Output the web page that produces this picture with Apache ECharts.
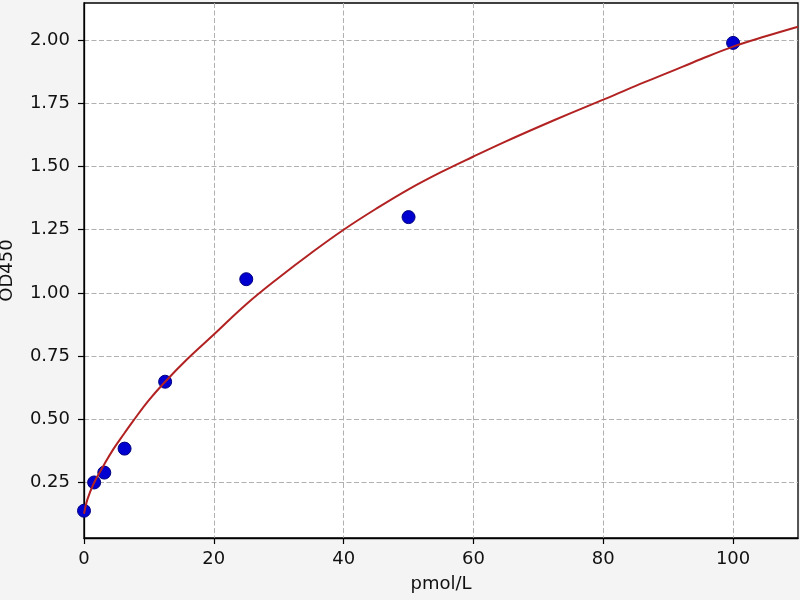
<!DOCTYPE html>
<html>
<head>
<meta charset="utf-8">
<script src="https://cdn.jsdelivr.net/npm/echarts@6/dist/echarts.min.js"></script>
<style>
html,body{margin:0;padding:0;background:#f4f4f4;}
#chart{width:800px;height:600px;}
</style>
</head>
<body>
<div id="chart"></div>
<script>
// Measured standards (pmol/L vs OD450)
const stdConc = [0, 1.5625, 3.125, 6.25, 12.5, 25, 50, 100];
const stdOD   = [0.137, 0.249, 0.288, 0.383, 0.648, 1.054, 1.30, 1.99];

// Fitted curve
const curveX = [0, 0.5, 1.5, 3, 4.5, 6.25, 7.5, 10, 12.5, 16, 20, 25, 30, 35, 40, 45, 50, 55, 60, 65, 70, 75, 80, 85, 90, 95, 100, 105, 110];
const curveY = [0.125, 0.18, 0.245, 0.315, 0.38, 0.445, 0.49, 0.575, 0.648, 0.74, 0.835, 0.955, 1.06, 1.158, 1.25, 1.333, 1.41, 1.478, 1.54, 1.60, 1.657, 1.712, 1.765, 1.82, 1.872, 1.925, 1.975, 2.016, 2.054];

// Tick labels
const xTicks = [0, 20, 40, 60, 80, 100];
const yTicks = [0.25, 0.5, 0.75, 1.0, 1.25, 1.5, 1.75, 2.0];

const chart = echarts.init(document.getElementById('chart'), null, {renderer: 'canvas'});
const font = 'DejaVu Sans';
const gridLine = {show: true, lineStyle: {color: '#b0b0b0', width: 1, type: [5, 2.5]}};

chart.setOption({
  backgroundColor: '#f4f4f4',
  animation: false,
  grid: {
    left: 84, top: 3, right: 2, bottom: 62,
    outerBoundsMode: 'none', containLabel: false,
    show: true, backgroundColor: '#ffffff', borderColor: '#000000', borderWidth: 1.3
  },
  xAxis: {
    type: 'value', min: 0, max: 110,
    name: 'pmol/L', nameLocation: 'middle', nameGap: 37,
    nameTextStyle: {fontFamily: font, fontSize: 18, color: '#111'},
    axisLine: {show: true, onZero: false, lineStyle: {color: '#000', width: 1.3}},
    axisTick: {show: true, inside: false, length: 6, customValues: xTicks, lineStyle: {color: '#000', width: 1.2}},
    axisLabel: {customValues: xTicks, margin: 12, fontFamily: font, fontSize: 18, color: '#111'},
    splitLine: gridLine
  },
  yAxis: {
    type: 'value', min: 0.029, max: 2.148,
    name: 'OD450', nameLocation: 'middle', nameGap: 68,
    nameTextStyle: {fontFamily: font, fontSize: 18, color: '#111'},
    axisLine: {show: true, onZero: false, lineStyle: {color: '#000', width: 1.3}},
    axisTick: {show: true, inside: false, length: 6, customValues: yTicks, lineStyle: {color: '#000', width: 1.2}},
    axisLabel: {customValues: yTicks, margin: 14, fontFamily: font, fontSize: 18, color: '#111',
      formatter: v => Number(v).toFixed(2)},
    splitLine: gridLine
  },
  series: [
    {
      type: 'scatter',
      data: stdConc.map((x, i) => [x, stdOD[i]]),
      symbol: 'circle', symbolSize: 13,
      itemStyle: {color: '#0000d0', opacity: 1, borderColor: '#000080', borderWidth: 1},
      z: 2
    },
    {
      type: 'line',
      data: curveX.map((x, i) => [x, curveY[i]]),
      smooth: 0.4, showSymbol: false, symbol: 'none',
      lineStyle: {color: '#b22222', width: 2},
      z: 3
    }
  ]
});
</script>
</body>
</html>
